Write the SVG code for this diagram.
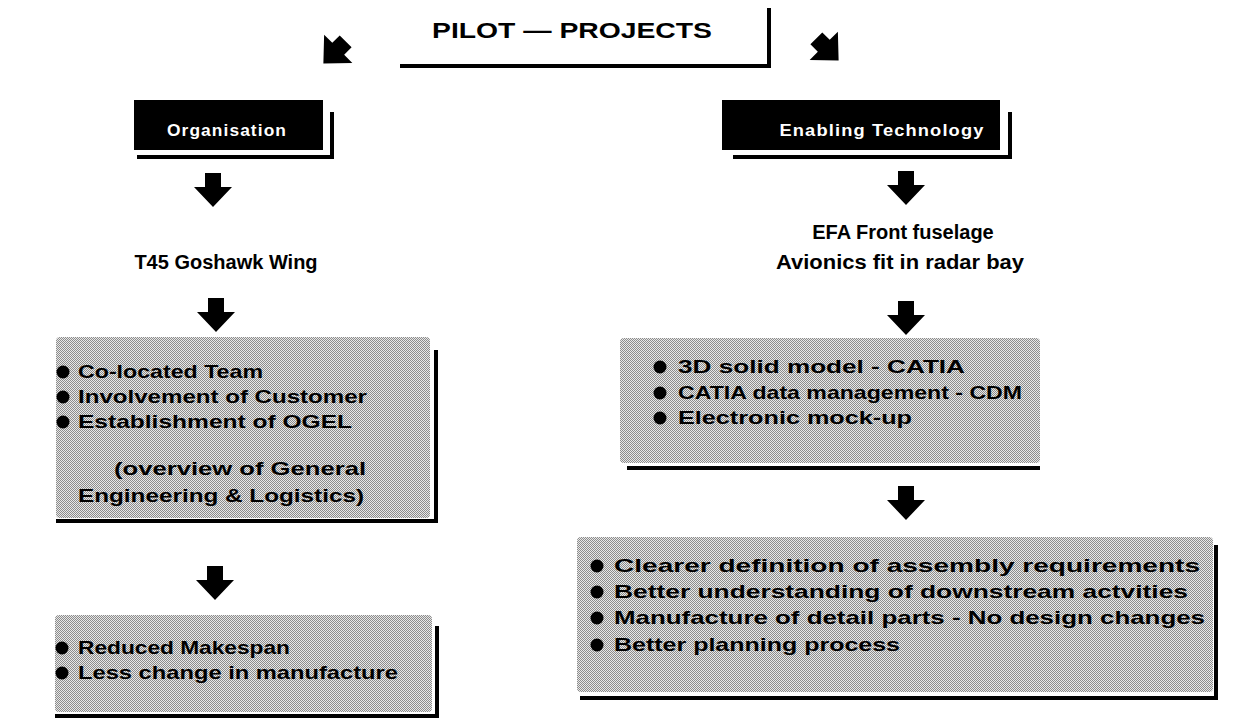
<svg xmlns="http://www.w3.org/2000/svg" width="1236" height="719" viewBox="0 0 1236 719">
<style>
.t{font-family:"Liberation Sans",Arial,sans-serif;font-weight:bold;fill:#000}
.w{font-family:"Liberation Sans",Arial,sans-serif;font-weight:bold;fill:#fff;font-size:16px;letter-spacing:1px}
.h{font-size:20px}
.b{font-size:19px}
.gray{fill:url(#dither)}
.ln{stroke:#000;stroke-width:4;fill:none}
</style>
<defs>
<pattern id="dither" width="2" height="2" patternUnits="userSpaceOnUse">
<rect width="2" height="2" fill="#e8e8e8"/>
<rect width="1" height="1" fill="#8c8c8c"/>
<rect x="1" y="1" width="1" height="1" fill="#8c8c8c"/>
</pattern>
<polygon id="darr" points="-8,-17 8,-17 8,-3 19,-3 0,17 -19,-3 -8,-3" fill="#000"/>
<polygon id="diag" points="-8,-13 8,-13 8,-3 19,-3 0,17 -19,-3 -8,-3" fill="#000"/>
</defs>
<rect width="1236" height="719" fill="#fff"/>

<g id="title">
<text class="t" font-size="22" x="572" y="38" text-anchor="middle" textLength="280" lengthAdjust="spacingAndGlyphs">PILOT — PROJECTS</text>
<path class="ln" d="M400,66 H769 V8"/>
</g>

<g id="organisation">
<rect x="134" y="100" width="189" height="50" fill="#000"/>
<path class="ln" d="M137,157 H332 V112"/>
<text class="w" x="227" y="136" text-anchor="middle" textLength="120" lengthAdjust="spacingAndGlyphs">Organisation</text>
</g>

<g id="enabling">
<rect x="722" y="100" width="278" height="50" fill="#000"/>
<path class="ln" d="M733,157 H1010 V112"/>
<text class="w" x="882" y="136" text-anchor="middle" textLength="205" lengthAdjust="spacingAndGlyphs">Enabling Technology</text>
</g>

<g id="t45">
<text class="t h" x="226" y="269" text-anchor="middle">T45 Goshawk Wing</text>
</g>

<g id="efa">
<text class="t h" x="903" y="239" text-anchor="middle">EFA Front fuselage</text>
<text class="t h" x="900" y="269" text-anchor="middle" textLength="248" lengthAdjust="spacingAndGlyphs">Avionics fit in radar bay</text>
</g>

<g id="box1">
<rect class="gray" x="56" y="337" width="374" height="181" rx="4"/>
<path class="ln" d="M56,521 H436 V350"/>
<circle cx="63" cy="372" r="6.5"/><circle cx="63" cy="397" r="6.5"/><circle cx="63" cy="422" r="6.5"/>
<text class="t b" x="78" y="378" textLength="185" lengthAdjust="spacingAndGlyphs">Co-located Team</text>
<text class="t b" x="78" y="403" textLength="289" lengthAdjust="spacingAndGlyphs">Involvement of Customer</text>
<text class="t b" x="78" y="428" textLength="274" lengthAdjust="spacingAndGlyphs">Establishment of OGEL</text>
<text class="t b" x="240" y="475" text-anchor="middle" textLength="252" lengthAdjust="spacingAndGlyphs">(overview of General</text>
<text class="t b" x="221" y="502" text-anchor="middle" textLength="286" lengthAdjust="spacingAndGlyphs">Engineering &amp; Logistics)</text>
</g>

<g id="box2">
<rect class="gray" x="55" y="615" width="377" height="97" rx="4"/>
<path class="ln" d="M55,716 H437 V626"/>
<circle cx="62" cy="648" r="6.5"/><circle cx="62" cy="673" r="6.5"/>
<text class="t b" x="78" y="654" textLength="212" lengthAdjust="spacingAndGlyphs">Reduced Makespan</text>
<text class="t b" x="78" y="679" textLength="320" lengthAdjust="spacingAndGlyphs">Less change in manufacture</text>
</g>

<g id="box3">
<rect class="gray" x="620" y="338" width="420" height="125" rx="4"/>
<path class="ln" d="M627,468 H1040"/>
<circle cx="660" cy="367" r="6.5"/><circle cx="660" cy="393" r="6.5"/><circle cx="660" cy="418" r="6.5"/>
<text class="t b" x="678" y="373" textLength="287" lengthAdjust="spacingAndGlyphs">3D solid model - CATIA</text>
<text class="t b" x="678" y="399" textLength="344" lengthAdjust="spacingAndGlyphs">CATIA data management - CDM</text>
<text class="t b" x="678" y="424" textLength="234" lengthAdjust="spacingAndGlyphs">Electronic mock-up</text>
</g>

<g id="box4">
<rect class="gray" x="577" y="537" width="636" height="155" rx="4"/>
<path class="ln" d="M580,698 H1216 V545"/>
<circle cx="597" cy="566" r="6.5"/><circle cx="597" cy="592" r="6.5"/><circle cx="597" cy="618" r="6.5"/><circle cx="597" cy="645" r="6.5"/>
<text class="t b" x="614" y="572" textLength="586" lengthAdjust="spacingAndGlyphs">Clearer definition of assembly requirements</text>
<text class="t b" x="614" y="598" textLength="574" lengthAdjust="spacingAndGlyphs">Better understanding of downstream actvities</text>
<text class="t b" x="614" y="624" textLength="591" lengthAdjust="spacingAndGlyphs">Manufacture of detail parts - No design changes</text>
<text class="t b" x="614" y="651" textLength="286" lengthAdjust="spacingAndGlyphs">Better planning process</text>
</g>

<g id="connectors">
<use href="#diag" transform="translate(336,51) rotate(45) scale(1.05)"/>
<use href="#diag" transform="translate(826,48) rotate(-45) scale(1.05)"/>
<use href="#darr" x="213" y="190"/>
<use href="#darr" x="216" y="315"/>
<use href="#darr" x="215" y="583"/>
<use href="#darr" x="906" y="188"/>
<use href="#darr" x="906" y="318"/>
<use href="#darr" x="906" y="503"/>
</g>
</svg>
